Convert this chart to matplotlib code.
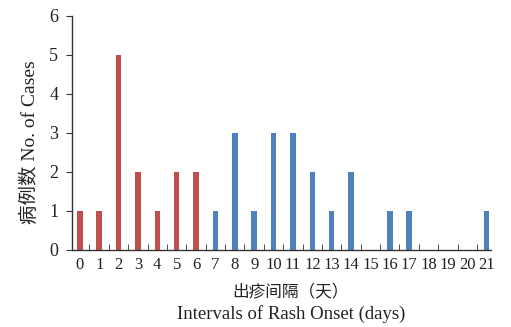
import matplotlib
matplotlib.use("Agg")
import matplotlib.pyplot as plt
import numpy as np

days = list(range(22))
cases = [1, 1, 5, 2, 1, 2, 2, 1, 3, 1, 3, 3, 2, 1, 2, 0, 1, 1, 0, 0, 0, 1]
split_day = 7  # days before this are red, the rest blue
red = "#c0504d"
blue = "#4f81bd"
ink = "#222222"

fonts = ["Liberation Serif", "Noto Sans CJK SC"]
plt.rcParams["font.family"] = fonts

fig = plt.figure(figsize=(5.11, 3.27), dpi=100)
ax = fig.add_axes([0.141, 0.2355, 0.819, 0.716])

colors = [red if d < split_day else blue for d in days]
ax.bar(days, cases, width=0.28, color=colors)

ax.set_xlim(-0.4, 21.2)
ax.set_ylim(0, 6)
ax.set_yticks(range(0, 7))
ax.set_xticks(days)
ax.set_xticklabels([str(d) for d in days], fontsize=12, color=ink)
ax.set_xticks(np.arange(0.5, 21, 1), minor=True)
ax.tick_params(axis="x", which="major", length=0, pad=5)
ax.tick_params(axis="x", which="minor", direction="in", length=4, color="#333333")
ax.tick_params(axis="y", direction="out", length=4, labelsize=13, pad=6,
               color="#333333", labelcolor=ink)

for s in ["top", "right"]:
    ax.spines[s].set_visible(False)
for s in ["left", "bottom"]:
    ax.spines[s].set_color("#333333")
    ax.spines[s].set_linewidth(1.0)

# y axis title
fig.text(30 / 511, 1 - 142.5 / 327, "病例数 No. of Cases", rotation=90, fontsize=14,
         ha="center", va="center", color=ink)

# x axis title, two lines
fig.text(290 / 511, 1 - 292 / 327, "出疹间隔（天）", fontsize=12,
         family="Noto Sans CJK SC", ha="center", va="center", color=ink)
fig.text(291 / 511, 1 - 314 / 327, "Intervals of Rash Onset (days)", fontsize=13.5,
         ha="center", va="center", color=ink)

fig.savefig("out.png", dpi=100)
